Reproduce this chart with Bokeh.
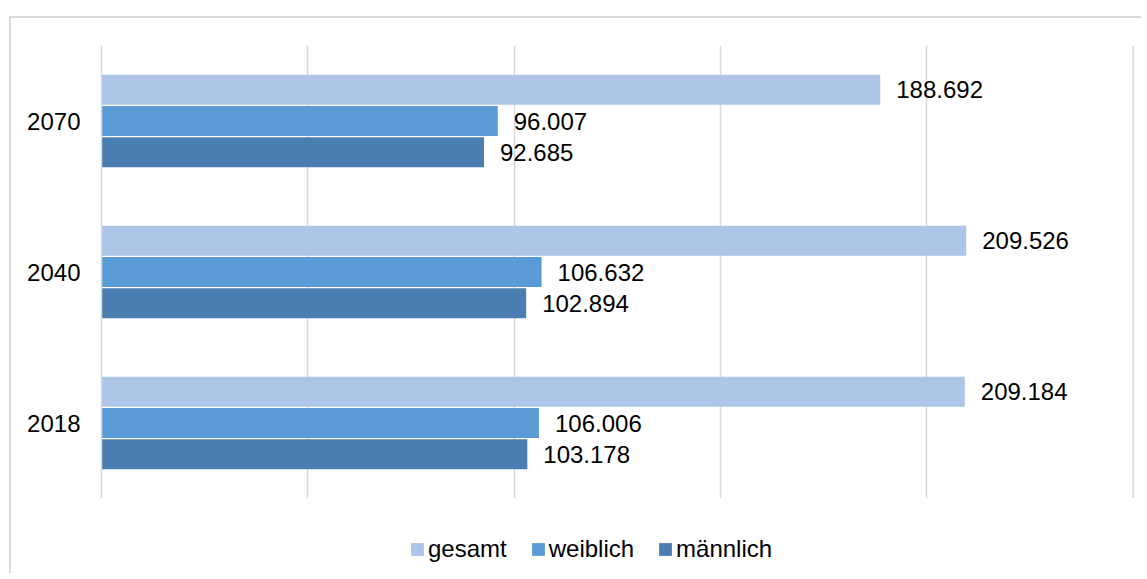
from bokeh.plotting import figure
from bokeh.layouts import column
from bokeh.models import (ColumnDataSource, FactorRange, Range1d, FixedTicker,
                          Legend, LegendItem, Span)
from bokeh.transform import dodge
from bokeh.core.properties import value
from bokeh.embed import file_html
from bokeh.resources import INLINE

# ---- data ----
years = ["2018", "2040", "2070"]
gesamt = [209184, 209526, 188692]
weiblich = [106006, 106632, 96007]
maennlich = [103178, 102894, 92685]
series_names = ["gesamt", "weiblich", "männlich"]
colors = ["#ADC5E7", "#5B9BD5", "#4A7EB0"]
grid_ticks = [0, 50000, 100000, 150000, 200000, 250000]


def fmt(v):
    return f"{v:,}".replace(",", ".")


src = ColumnDataSource(dict(
    year=years,
    gesamt=gesamt, weiblich=weiblich, maennlich=maennlich,
    g_lab=[fmt(v) for v in gesamt],
    w_lab=[fmt(v) for v in weiblich],
    m_lab=[fmt(v) for v in maennlich],
))

FONT = "Liberation Sans"
W = 1130

p = figure(
    width=W, height=480,
    y_range=FactorRange(*years, range_padding=0),
    x_range=Range1d(0, 252000),
    output_backend="svg", toolbar_location=None,
    min_border_left=90, min_border_right=0,
    min_border_top=27, min_border_bottom=0,
)
p.outline_line_color = None
p.background_fill_color = "white"
p.border_fill_color = "white"

offs = [0.207, 0.0, -0.207]
fields = ["gesamt", "weiblich", "maennlich"]
labs = ["g_lab", "w_lab", "m_lab"]
for f, lab, off, c in zip(fields, labs, offs, colors):
    p.hbar(y=dodge("year", off, range=p.y_range), right=f, left=0,
           height=0.2, source=src, fill_color=c, line_color=None)
    p.text(x=f, y=dodge("year", off, range=p.y_range), text=lab, source=src,
           x_offset=16, text_baseline="middle", text_align="left",
           text_font=value(FONT), text_font_size="24px", text_color="#000000")

# axes
p.xaxis.visible = False
p.xaxis.ticker = FixedTicker(ticks=grid_ticks)
p.xgrid.ticker = FixedTicker(ticks=grid_ticks)
p.xgrid.grid_line_color = "#d9d9d9"
p.xgrid.grid_line_width = 1.5
p.ygrid.grid_line_color = None
# make sure the outermost gridline is drawn
p.add_layout(Span(location=grid_ticks[-1], dimension="height",
                  line_color="#d9d9d9", line_width=1.5))

p.yaxis.axis_line_color = "#d9d9d9"
p.yaxis.axis_line_width = 1.5
p.yaxis.major_tick_line_color = None
p.yaxis.minor_tick_line_color = None
p.yaxis.major_tick_in = 0
p.yaxis.major_tick_out = 0
p.yaxis.major_label_standoff = 21
p.yaxis.major_label_text_font = FONT
p.yaxis.major_label_text_font_size = "24px"
p.yaxis.major_label_text_color = "#000000"

# ---- legend strip ----
lg = figure(
    width=W, height=75, x_range=Range1d(0, 252000),
    y_range=FactorRange(*years),
    output_backend="svg", toolbar_location=None,
    min_border_left=0, min_border_right=0, min_border_top=0, min_border_bottom=0,
)
lg.axis.visible = False
lg.grid.visible = False
lg.outline_line_color = None
lg.border_fill_color = "white"
items = []
for n, f, c in zip(series_names, fields, colors):
    # degenerate (zero-size) proxy bars only feed the legend swatches
    r = lg.hbar(y="year", left=f, right=f, height=0, source=src,
                fill_color=c, line_color=None)
    items.append(LegendItem(label=n, renderers=[r]))

legend = Legend(
    items=items, orientation="horizontal", location=(308, 10),
    glyph_width=16, glyph_height=16, label_standoff=3, spacing=23,
    padding=0, margin=0, border_line_color=None, background_fill_alpha=0,
    label_text_font=FONT, label_text_font_size="24px", label_text_color="#000000",
)
lg.add_layout(legend, "center")

layout = column(p, lg, spacing=0)
layout.styles = {"margin-left": "9px", "margin-top": "16px",
                 "border-left": "2px solid #d9d9d9",
                 "border-top": "2px solid #d9d9d9"}

open("out.html", "w").write(file_html(layout, INLINE))
